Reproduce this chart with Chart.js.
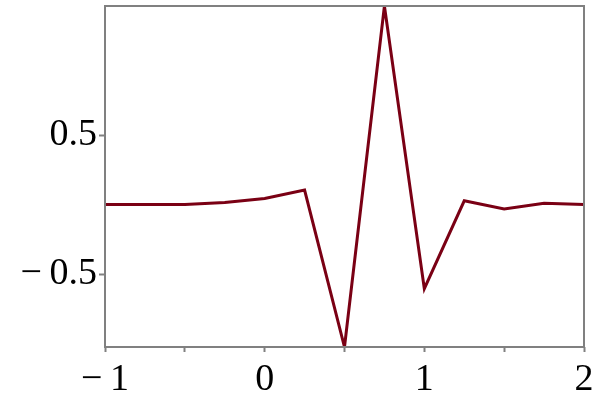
<!DOCTYPE html>
<html>
<head>
<meta charset="utf-8">
<script src="https://cdn.jsdelivr.net/npm/chart.js@4"></script>
<style>
  html, body { margin: 0; padding: 0; background: #fff; }
  #wrap { width: 600px; height: 412px; }
</style>
</head>
<body>
<div id="wrap"><canvas id="chart" width="600" height="412"></canvas></div>
<script>
// sample positions and values
const xValues = [-1, -0.75, -0.5, -0.25, 0, 0.25, 0.5, 0.75, 1, 1.25, 1.5, 1.75, 2];
const yValues = [0, 0, 0, 0.015, 0.043, 0.104, -1.025, 1.428, -0.605, 0.027, -0.032, 0.009, 0];
const xTicks = [-1, -0.5, 0, 0.5, 1, 1.5, 2];
const xLabels = ['\u2212\u20091', '', '0', '', '1', '', '2'];
const yTicks = [-0.5, 0.5];
const yLabels = ['\u2212\u20090.5', '0.5'];

const points = xValues.map((x, i) => ({ x: x, y: yValues[i] }));

const frameColor = '#808080';

const framePlugin = {
  id: 'frame',
  afterDraw(chart) {
    const a = chart.chartArea;
    const ctx = chart.ctx;
    ctx.save();
    ctx.strokeStyle = frameColor;
    ctx.lineWidth = 2;
    ctx.strokeRect(a.left, a.top, a.right - a.left, a.bottom - a.top);
    ctx.restore();
  }
};

const ctx = document.getElementById('chart').getContext('2d');
const myChart = new Chart(ctx, {
  type: 'scatter',
  data: {
    datasets: [{
      data: points,
      showLine: true,
      borderColor: '#7a0014',
      borderWidth: 3,
      pointRadius: 0,
      tension: 0,
      clip: 0
    }]
  },
  options: {
    responsive: false,
    animation: false,
    layout: { padding: { top: 6, right: 16, left: 0, bottom: 0 } },
    plugins: {
      legend: { display: false },
      tooltip: { enabled: false }
    },
    scales: {
      x: {
        type: 'linear',
        min: -1,
        max: 2,
        border: { display: false },
        grid: { drawOnChartArea: false, drawTicks: true, tickLength: 5, tickColor: frameColor, tickWidth: 2 },
        afterBuildTicks: function(scale) {
          scale.ticks = xTicks.map(v => ({ value: v }));
        },
        afterFit: function(scale) {
          scale.height = 65;
          scale.paddingLeft = 0;
          scale.paddingRight = 0;
        },
        ticks: {
          autoSkip: false,
          maxRotation: 0,
          padding: 5,
          color: '#000',
          font: { family: '"Liberation Serif", "Times New Roman", serif', size: 38 },
          callback: function(value) {
            const i = xTicks.indexOf(value);
            return i >= 0 ? xLabels[i] : '';
          }
        }
      },
      y: {
        type: 'linear',
        min: -1.025,
        max: 1.428,
        border: { display: false },
        grid: { drawOnChartArea: false, drawTicks: true, tickLength: 6, tickColor: frameColor, tickWidth: 2 },
        afterBuildTicks: function(scale) {
          scale.ticks = yTicks.map(v => ({ value: v }));
        },
        afterFit: function(scale) {
          scale.width = 105;
          scale.paddingTop = 0;
          scale.paddingBottom = 0;
        },
        ticks: {
          padding: 2,
          color: '#000',
          font: { family: '"Liberation Serif", "Times New Roman", serif', size: 38 },
          callback: function(value) {
            const i = yTicks.indexOf(value);
            return i >= 0 ? yLabels[i] : '';
          }
        }
      }
    }
  },
  plugins: [framePlugin]
});
</script>
</body>
</html>
